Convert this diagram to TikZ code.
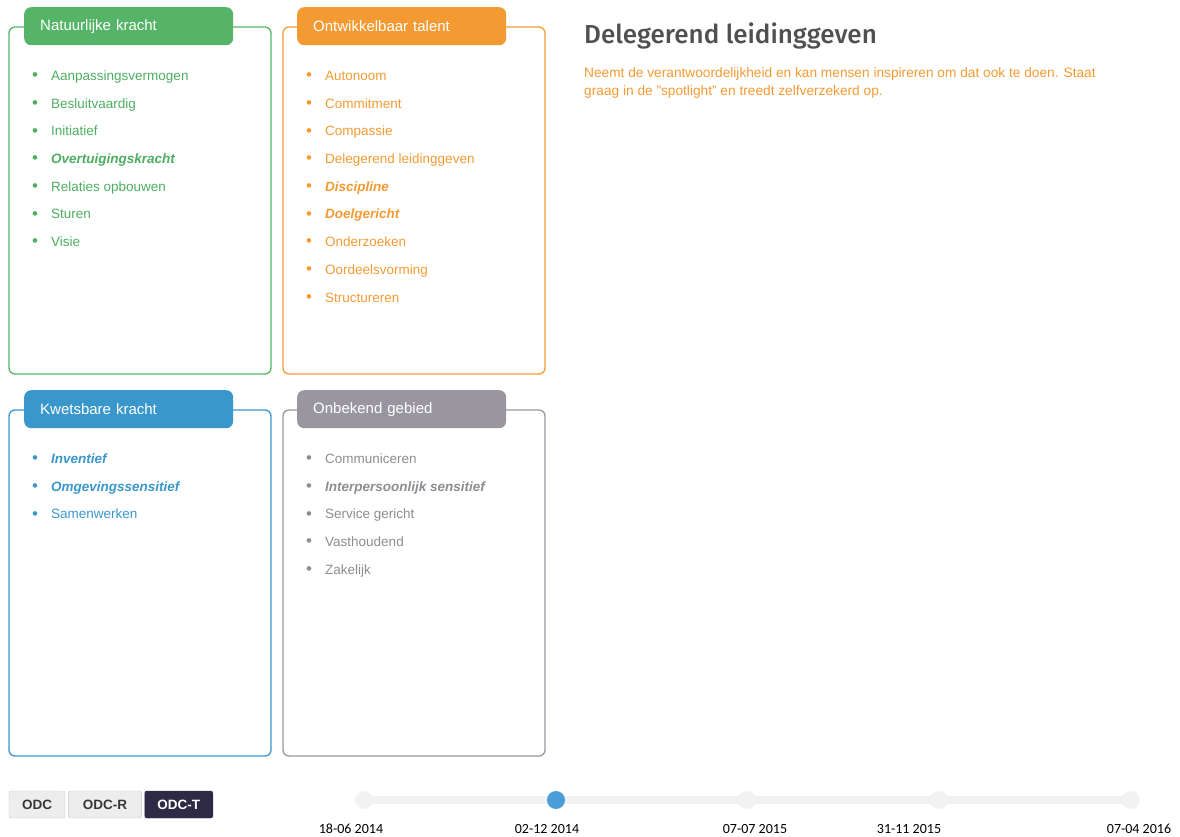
\documentclass[tikz,border=0pt]{standalone}
\usepackage{fontspec}
\setmainfont{Liberation Sans}
\newfontfamily\titlefont{Fira Sans}[BoldFont={Fira Sans Medium}]
\newfontfamily\datefont{Carlito}
\usepackage{xcolor}
\usetikzlibrary{positioning}

\definecolor{natgreen}{HTML}{55B468}
\definecolor{natitem}{HTML}{4DAE60}
\definecolor{ontorange}{HTML}{F49A33}
\definecolor{kwblue}{HTML}{3A97CC}
\definecolor{onbgrey}{HTML}{9A969F}
\definecolor{onbitem}{HTML}{8E8C91}
\definecolor{titlegrey}{HTML}{505050}
\definecolor{btndark}{HTML}{2E2945}
\definecolor{btngrey}{HTML}{EDEDED}
\definecolor{btnline}{HTML}{C8C8C8}
\definecolor{trackgrey}{HTML}{F2F2F2}
\definecolor{dotblue}{HTML}{4A9FD9}

\tikzset{
    frame/.style={draw=#1, line width=1.3pt, rounded corners=6pt},
    header/.style={fill=#1, rounded corners=7pt, anchor=north west, text=white,
        font=\fontsize{15}{18}\selectfont, text width=177pt, align=left,
        inner xsep=16pt, inner ysep=0pt, minimum height=38pt},
    item/.style={text=#1, anchor=west, inner sep=0pt, text height=9.7pt, text depth=2.8pt,
        font=\fontsize{13.5}{16}\selectfont},
    button/.style={draw=btnline, fill=btngrey, rounded corners=2pt, text=black!78,
        font=\fontsize{13.5}{14}\bfseries\selectfont, minimum height=27pt, inner xsep=0pt},
    dot/.style={circle, fill=trackgrey, minimum size=18pt, inner sep=0pt},
    datelabel/.style={font=\datefont\fontsize{14}{16}\selectfont, inner sep=0pt}
}

\newcommand{\bul}{\makebox[19pt][l]{\raisebox{-0.3pt}{\scalebox{1.25}{\textbullet}}}}

\begin{document}
\begin{tikzpicture}[x=1pt, y=-1pt]
    \useasboundingbox (0,0) rectangle (1180,836);

    % Natuurlijke kracht
    \begin{scope}[shift={(9,27)}]
        \draw[frame=natgreen] (0,0) rectangle (262,347);
        \node[header=natgreen] (natHead) at (15,-20) {Natuurlijke kracht};
        \foreach \txt [count=\i] in {Aanpassingsvermogen, Besluitvaardig, Initiatief,
            \textbf{\textit{Overtuigingskracht}}, Relaties opbouwen, Sturen, Visie}
            \node[item=natitem] (nat\i) at (23,50+27.7*\i-27.7) {\bul\txt};
    \end{scope}

    % Ontwikkelbaar talent
    \begin{scope}[shift={(283,27)}]
        \draw[frame=ontorange] (0,0) rectangle (262,347);
        \node[header=ontorange] (ontHead) at (14,-20) {Ontwikkelbaar talent};
        \foreach \txt [count=\i] in {Autonoom, Commitment, Compassie, Delegerend leidinggeven,
            \textbf{\textit{Discipline}}, \textbf{\textit{Doelgericht}}, Onderzoeken,
            Oordeelsvorming, Structureren}
            \node[item=ontorange] (ont\i) at (23,50+27.7*\i-27.7) {\bul\txt};
    \end{scope}

    % Kwetsbare kracht
    \begin{scope}[shift={(9,410)}]
        \draw[frame=kwblue] (0,0) rectangle (262,346);
        \node[header=kwblue] (kwHead) at (15,-20) {Kwetsbare kracht};
        \foreach \txt [count=\i] in {\textbf{\textit{Inventief}},
            \textbf{\textit{Omgevingssensitief}}, Samenwerken}
            \node[item=kwblue] (kw\i) at (23,50+27.7*\i-27.7) {\bul\txt};
    \end{scope}

    % Onbekend gebied
    \begin{scope}[shift={(283,410)}]
        \draw[frame=onbgrey] (0,0) rectangle (262,346);
        \node[header=onbgrey] (onbHead) at (14,-20) {Onbekend gebied};
        \foreach \txt [count=\i] in {Communiceren, \textbf{\textit{Interpersoonlijk sensitief}},
            Service gericht, Vasthoudend, Zakelijk}
            \node[item=onbitem] (onb\i) at (23,50+27.7*\i-27.7) {\bul\txt};
    \end{scope}

    % Beschrijving
    \node[anchor=west, inner sep=0pt, text=titlegrey,
        font=\titlefont\fontsize{26}{30}\bfseries\selectfont] (title) at (584,36) {Delegerend leidinggeven};
    \node[anchor=north west, inner sep=0pt, text=ontorange, align=left,
        font=\fontsize{13.7}{18}\selectfont] (desc) at (584,67)
        {Neemt de verantwoordelijkheid en kan mensen inspireren om dat ook te doen. Staat\\
         graag in de "spotlight" en treedt zelfverzekerd op.};

    % Knoppen
    \node[button, minimum width=56pt] (odc) at (37,804.5) {ODC};
    \node[button, minimum width=73pt, right=3pt of odc] (odcr) {ODC-R};
    \node[button, minimum width=68pt, right=3pt of odcr, fill=btndark, draw=btndark, text=white] (odct) {ODC-T};

    % Tijdlijn
    \coordinate (t1) at (364,800);
    \coordinate (t2) at (556,800);
    \coordinate (t3) at (747,800);
    \coordinate (t4) at (939,800);
    \coordinate (t5) at (1131,800);
    \draw[trackgrey, line width=8pt] (t1) -- (t5);
    \node[dot] (d1) at (t1) {};
    \node[dot, fill=dotblue] (d2) at (t2) {};
    \node[dot] (d3) at (t3) {};
    \node[dot] (d4) at (t4) {};
    \node[dot] (d5) at (t5) {};
    \node[datelabel] (l1) at (351,829) {18-06 2014};
    \node[datelabel] (l2) at (547,829) {02-12 2014};
    \node[datelabel] (l3) at (755,829) {07-07 2015};
    \node[datelabel] (l4) at (909,829) {31-11 2015};
    \node[datelabel] (l5) at (1139,829) {07-04 2016};
\end{tikzpicture}
\end{document}
